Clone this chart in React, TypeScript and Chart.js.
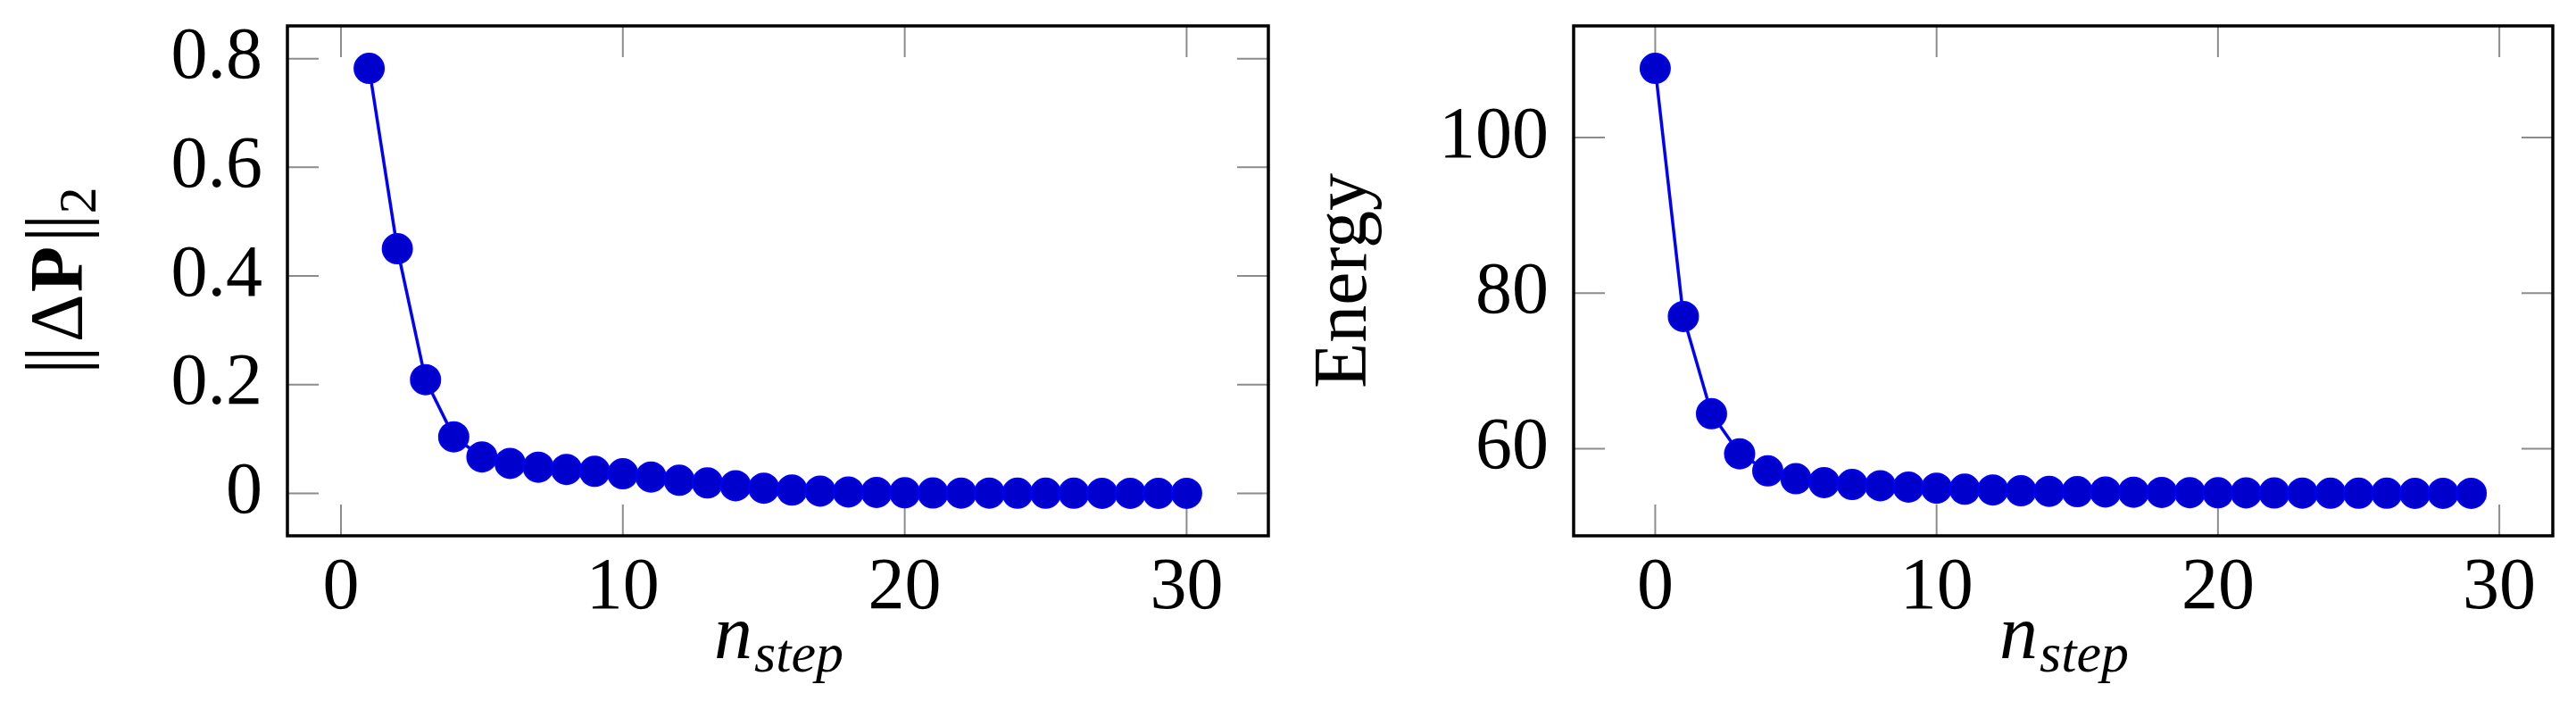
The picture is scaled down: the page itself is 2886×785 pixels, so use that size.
import React, { useEffect, useRef } from 'react';
import { Chart, registerables } from 'chart.js';

Chart.register(...registerables);

// ---- Data ----
const stepsLeft = [1, 2, 3, 4, 5, 6, 7, 8, 9, 10, 11, 12, 13, 14, 15, 16, 17, 18, 19, 20, 21, 22, 23, 24, 25, 26, 27, 28, 29, 30];
const deltaPNorm = [0.782, 0.45, 0.209, 0.104, 0.067, 0.055, 0.048, 0.044, 0.0405, 0.036, 0.03, 0.024, 0.019, 0.014, 0.0095, 0.006, 0.004, 0.0025, 0.0016, 0.001, 0.0006, 0.0004, 0.0003, 0.0002, 0.0001, 0.0001, 0, 0, 0, 0];

const stepsRight = [0, 1, 2, 3, 4, 5, 6, 7, 8, 9, 10, 11, 12, 13, 14, 15, 16, 17, 18, 19, 20, 21, 22, 23, 24, 25, 26, 27, 28, 29];
const energy = [108.9, 77.0, 64.5, 59.35, 57.15, 56.15, 55.65, 55.4, 55.25, 55.08, 54.93, 54.8, 54.7, 54.6, 54.53, 54.48, 54.44, 54.41, 54.38, 54.36, 54.34, 54.33, 54.31, 54.3, 54.29, 54.28, 54.28, 54.27, 54.27, 54.27];

const xTicks = [0, 10, 20, 30];
const yTicksLeft = [0, 0.2, 0.4, 0.6, 0.8];
const yTicksRight = [60, 80, 100];

const SERIF = "'Liberation Serif', 'DejaVu Serif', serif";

type Piece = { t: string; font: string; dy: number; adv?: number; gap: number };

const framePlugin = {
  id: 'frame',
  beforeDatasetsDraw(chart: any) {
    const { ctx, chartArea: a, scales } = chart;
    const x = scales.x;
    const y = scales.y;
    ctx.save();
    ctx.strokeStyle = '#8c8c8c';
    ctx.lineWidth = 2;
    ctx.beginPath();
    const L = 35;
    for (const t of x.ticks) {
      const px = x.getPixelForValue(t.value);
      ctx.moveTo(px, a.bottom);
      ctx.lineTo(px, a.bottom - L);
      ctx.moveTo(px, a.top);
      ctx.lineTo(px, a.top + L);
    }
    for (const t of y.ticks) {
      const py = y.getPixelForValue(t.value);
      ctx.moveTo(a.left, py);
      ctx.lineTo(a.left + L, py);
      ctx.moveTo(a.right, py);
      ctx.lineTo(a.right - L, py);
    }
    ctx.stroke();
    ctx.restore();
  },
  afterDraw(chart: any, _args: any, opts: any) {
    const { ctx, chartArea: a } = chart;
    ctx.save();
    ctx.strokeStyle = '#000';
    ctx.lineWidth = 3.5;
    ctx.strokeRect(a.left, a.top, a.right - a.left, a.bottom - a.top);

    // x title: n_step
    ctx.fillStyle = '#000';
    ctx.textBaseline = 'alphabetic';
    ctx.textAlign = 'left';
    const mainFont = `italic 86px ${SERIF}`;
    const subFont = `italic 62px ${SERIF}`;
    ctx.font = mainFont;
    const wn = ctx.measureText('n').width;
    ctx.font = subFont;
    const ws = ctx.measureText('step').width;
    const cx = (a.left + a.right) / 2;
    const bx = a.bottom + 137;
    const sx = cx - (wn + ws) / 2;
    ctx.font = mainFont;
    ctx.fillText('n', sx, bx);
    ctx.font = subFont;
    ctx.fillText('step', sx + wn + 2, bx + 15);

    // y title
    const cy = (a.top + a.bottom) / 2;
    const pieces: Piece[] = opts.yTitle;
    const widths = pieces.map((p) => {
      ctx.font = p.font;
      return (p.adv !== undefined ? p.adv : ctx.measureText(p.t).width) + p.gap;
    });
    const total = widths.reduce((s, w) => s + w, 0);
    ctx.translate(a.left - opts.yTitleOffset, cy);
    ctx.rotate(-Math.PI / 2);
    let px = -total / 2;
    pieces.forEach((p, i) => {
      ctx.font = p.font;
      ctx.fillText(p.t, px, p.dy);
      px += widths[i];
    });
    ctx.restore();
  },
};

function makeConfig(xs: number[], ys: number[], xMin: number, xMax: number, yMin: number, yMax: number, yTicks: number[], yAxisWidth: number, rightPad: number, yTitle: Piece[], yTitleOffset: number) {
  const tickFont = { family: SERIF, size: 82 };
  return {
    type: 'line',
    data: {
      datasets: [
        {
          data: xs.map((v, i) => ({ x: v, y: ys[i] })),
          borderColor: '#0000ff',
          borderWidth: 3.5,
          backgroundColor: '#0000cc',
          pointBackgroundColor: '#0000cc',
          pointBorderColor: '#0000ff',
          pointBorderWidth: 2,
          pointRadius: 16.5,
          tension: 0,
          fill: false,
        },
      ],
    },
    options: {
      animation: false,
      responsive: false,
      events: [],
      layout: { autoPadding: false, padding: { top: 29, right: rightPad, bottom: 0, left: 0 } },
      plugins: {
        legend: { display: false },
        tooltip: { enabled: false },
        frame: { yTitle, yTitleOffset },
      },
      scales: {
        x: {
          type: 'linear',
          min: xMin,
          max: xMax,
          grid: { display: false, drawTicks: false },
          border: { display: false },
          ticks: { font: tickFont, color: '#000', padding: 10 },
          afterBuildTicks: (s: any) => {
            s.ticks = xTicks.map((v) => ({ value: v }));
          },
          afterFit: (s: any) => {
            s.height = 185;
            s.paddingLeft = 0;
            s.paddingRight = 0;
          },
        },
        y: {
          type: 'linear',
          min: yMin,
          max: yMax,
          grid: { display: false, drawTicks: false },
          border: { display: false },
          ticks: { font: tickFont, color: '#000', padding: 28 },
          afterBuildTicks: (s: any) => {
            s.ticks = yTicks.map((v) => ({ value: v }));
          },
          afterFit: (s: any) => {
            s.width = yAxisWidth;
            s.paddingTop = 0;
            s.paddingBottom = 0;
          },
        },
      },
    },
    plugins: [framePlugin],
  } as any;
}

export default function App() {
  const leftRef = useRef<HTMLCanvasElement | null>(null);
  const rightRef = useRef<HTMLCanvasElement | null>(null);

  useEffect(() => {
    const main = `84px ${SERIF}`;
    const bar = `92px ${SERIF}`;
    const leftTitle: Piece[] = [
      { t: '|', font: bar, dy: 0, adv: 14, gap: 0 },
      { t: '|', font: bar, dy: 0, gap: 4 },
      { t: 'Δ', font: main, dy: 0, gap: 2 },
      { t: 'P', font: `bold 84px ${SERIF}`, dy: 0, gap: 4 },
      { t: '|', font: bar, dy: 0, adv: 14, gap: 0 },
      { t: '|', font: bar, dy: 0, gap: 0 },
      { t: '2', font: `60px ${SERIF}`, dy: 15, gap: 0 },
    ];
    const rightTitle: Piece[] = [{ t: 'Energy', font: main, dy: 0, gap: 0 }];
    const c1 = new Chart(leftRef.current as HTMLCanvasElement, makeConfig(stepsLeft, deltaPNorm, -1.9, 32.9, -0.0782, 0.8602, yTicksLeft, 322, 22, leftTitle, 230));
    const c2 = new Chart(rightRef.current as HTMLCanvasElement, makeConfig(stepsRight, energy, -2.9, 31.9, 48.81, 114.36, yTicksRight, 320, 26, rightTitle, 233));
    return () => {
      c1.destroy();
      c2.destroy();
    };
  }, []);

  return (
    <div style={{ position: 'absolute', left: 0, top: 0, width: 2886, height: 785, background: '#fff' }}>
      <canvas ref={leftRef} width={1443} height={785} style={{ position: 'absolute', left: 0, top: 0, width: 1443, height: 785 }} />
      <canvas ref={rightRef} width={1443} height={785} style={{ position: 'absolute', left: 1443, top: 0, width: 1443, height: 785 }} />
    </div>
  );
}
